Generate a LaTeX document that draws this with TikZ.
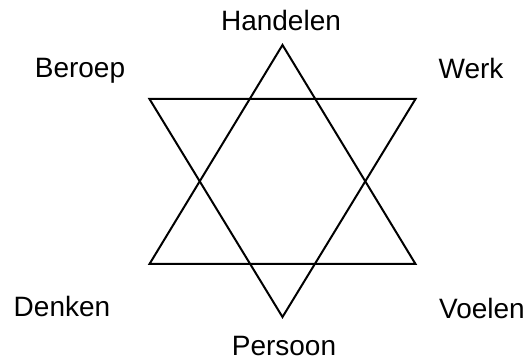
\documentclass[tikz,border=0pt]{standalone}
\usepackage{fontspec}
\setmainfont{Liberation Sans}
\usetikzlibrary{positioning}
\begin{document}
\begin{tikzpicture}[
  x=0.75pt, y=-0.75pt,
  line width=1.5pt,
  lbl/.style={anchor=base, inner sep=0pt, font=\fontsize{21}{25}\selectfont},
]
\useasboundingbox (0,0) rectangle (526,360);
% upward triangle
\coordinate (up) at (282.5,45);
\coordinate (ul) at (149.5,264);
\coordinate (ur) at (415.5,264);
% downward triangle
\coordinate (dl) at (149.5,99);
\coordinate (dr) at (415.5,99);
\coordinate (dn) at (282.5,317);
\draw (up) -- (ur) -- (ul) -- cycle;
\draw (dl) -- (dr) -- (dn) -- cycle;
% labels round the star
\node[lbl] (handelen) at (281,31)  {Handelen};
\node[lbl] (beroep)   at (80,78)   {Beroep};
\node[lbl] (werk)     at (471,79)  {Werk};
\node[lbl] (denken)   at (62,317)  {Denken};
\node[lbl] (voelen)   at (482,319) {Voelen};
\node[lbl] (persoon)  at (284,355) {Persoon};
\end{tikzpicture}
\end{document}
